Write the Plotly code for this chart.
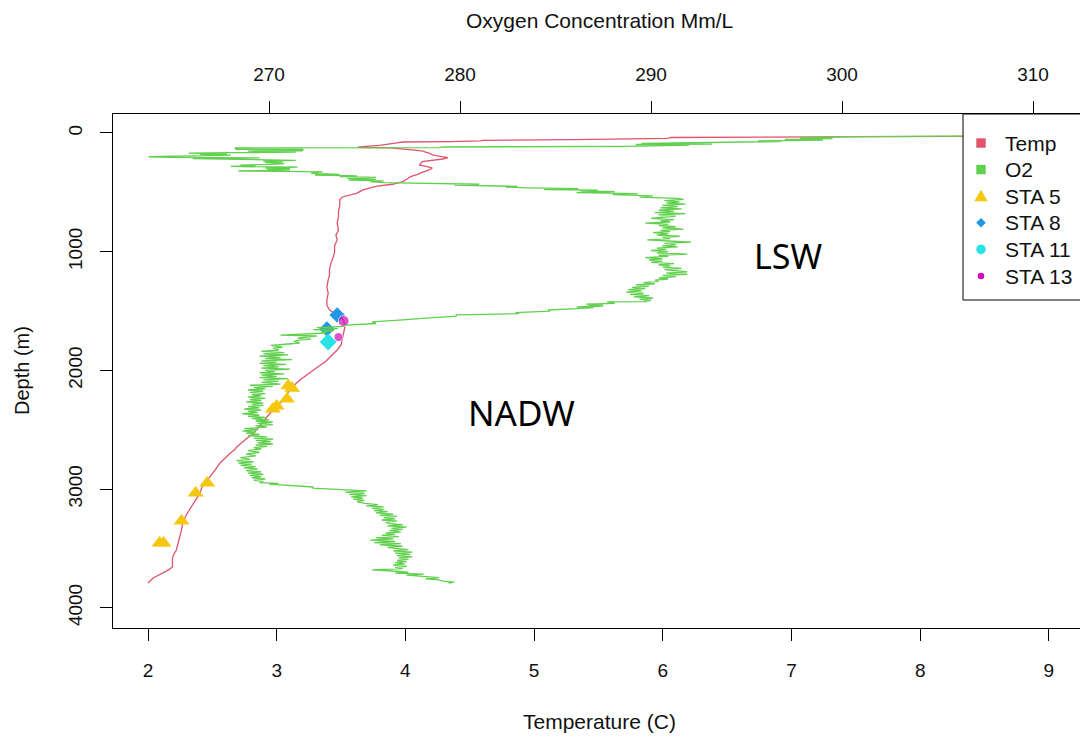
import plotly.graph_objects as go

# ---------------- data ----------------
temp_depth = [0, 8, 16, 24, 30, 34, 38, 45, 50, 56, 62, 67, 73, 76, 85, 93, 104, 115, 120, 126,
              135, 143, 152, 160, 172, 185, 197, 208, 219, 230, 242, 256, 270, 283, 295, 312, 322,
              331, 350, 368, 390, 410, 432, 447, 465, 480, 508, 539, 564, 610, 660, 708, 760, 820,
              860, 901, 950, 1000, 1045, 1100, 1154, 1200, 1238, 1300, 1350, 1407, 1450, 1491,
              1533, 1575, 1634, 1685, 1744, 1786, 1828, 1862, 1896, 1925, 1955, 1985, 2014, 2048,
              2081, 2120, 2165, 2220, 2275, 2320, 2359, 2400, 2443, 2490, 2528, 2560, 2587, 2615,
              2645, 2670, 2696, 2740, 2780, 2840, 2898, 2940, 2982, 3040, 3092, 3120, 3151, 3195,
              3235, 3290, 3345, 3390, 3429, 3470, 3513, 3550, 3581, 3620, 3656, 3680, 3699, 3712,
              3724, 3737, 3749, 3770, 3791]
temp_vals = [10.6, 10.3, 9.9, 9.4, 8.2, 6.60, 6.06, 6.04, 5.32, 5.30, 4.60, 4.58, 4.35, 3.98, 3.92,
             3.88, 3.80, 3.67, 3.63, 3.88, 3.95, 4.05, 4.14, 4.15, 4.19, 4.21, 4.27, 4.33, 4.29, 4.20,
             4.13, 4.12, 4.11, 4.17, 4.21, 4.18, 4.16, 4.13, 4.09, 4.04, 4.01, 3.98, 3.90, 3.78, 3.72,
             3.67, 3.62, 3.51, 3.49, 3.49, 3.48, 3.48, 3.47, 3.48, 3.46, 3.47, 3.45, 3.45, 3.44, 3.42,
             3.41, 3.41, 3.40, 3.39, 3.40, 3.39, 3.39, 3.41, 3.47, 3.52, 3.53, 3.52, 3.51, 3.50, 3.47,
             3.44, 3.41, 3.38, 3.34, 3.30, 3.26, 3.22, 3.18, 3.14, 3.10, 3.07, 3.03, 2.99, 2.95, 2.92,
             2.89, 2.85, 2.82, 2.78, 2.75, 2.72, 2.69, 2.67, 2.64, 2.60, 2.56, 2.52, 2.48, 2.45, 2.42,
             2.40, 2.37, 2.35, 2.33, 2.31, 2.29, 2.27, 2.26, 2.25, 2.24, 2.23, 2.22, 2.20, 2.19, 2.19,
             2.19, 2.16, 2.13, 2.10, 2.08, 2.06, 2.04, 2.02, 2.00]

o2_depth = [0, 10, 18, 24, 27, 28, 29, 30, 36, 42, 48, 54, 60, 67, 72, 78, 84, 88, 93, 97, 102, 107,
            112, 118, 124, 126, 137, 139, 150, 152, 155, 158, 162, 166, 170, 175, 180, 186, 192,
            200, 205, 210, 215, 222, 230, 236, 243, 250, 257, 264, 270, 275, 282, 288, 295, 300,
            306, 312, 320, 328, 334, 340, 348, 354, 362, 368, 374, 384, 390, 396, 404, 410, 418,
            424, 432, 438, 444, 450, 456, 462, 468, 476, 482, 488, 494, 502, 510, 520, 530, 540,
            550,
            560, 570, 580, 590, 600, 610, 620, 630, 640, 650, 660, 670, 680, 690, 700, 710, 720,
            730, 740, 750, 760, 770, 780, 790, 800, 810, 820, 830, 840, 850, 860, 870, 880, 890,
            900, 910, 920, 930, 940, 950, 960, 970, 980, 990, 1000, 1010, 1020, 1030, 1040, 1050,
            1060, 1070, 1080, 1090, 1100, 1110, 1120, 1130, 1140, 1150, 1160, 1170, 1180, 1190,
            1200, 1210, 1220, 1230, 1240, 1250, 1260, 1270, 1280, 1290, 1300, 1310, 1320, 1330,
            1340, 1350, 1360, 1370, 1380, 1390, 1400, 1410, 1418,
            1421, 1423, 1435, 1441, 1446, 1450, 1458, 1466, 1470, 1480, 1491, 1500, 1514, 1522,
            1533, 1543, 1553, 1562, 1575, 1592, 1605, 1618, 1630, 1640, 1648, 1656, 1665, 1675,
            1685, 1702, 1710, 1719, 1728, 1736, 1744, 1755, 1769, 1790, 1805, 1815, 1828,
            1840, 1850, 1860, 1870, 1880, 1890, 1900, 1910, 1920, 1930, 1940, 1950, 1960, 1970,
            1980, 1990, 2000, 2010, 2020, 2030, 2040, 2050, 2060, 2070, 2080, 2090, 2100,
            2115, 2125, 2135, 2145, 2155, 2165, 2175, 2185, 2195, 2205, 2215, 2225, 2235, 2245,
            2255, 2265, 2275, 2285, 2295, 2305, 2315, 2325, 2335, 2345, 2355, 2365, 2376, 2386,
            2396, 2406, 2416, 2426, 2436, 2446, 2456, 2466, 2477,
            2490, 2500, 2510, 2520, 2528, 2540, 2550, 2560, 2570, 2580, 2590, 2600, 2610, 2620,
            2630, 2640, 2650, 2660, 2675, 2690, 2705, 2720, 2735, 2750, 2760, 2770, 2780, 2790,
            2800, 2810, 2820, 2830, 2845, 2855, 2865, 2875, 2885, 2895, 2905, 2915, 2925, 2935,
            2945, 2952, 2958, 2966, 2975, 2982, 2991, 2998, 3008, 3015, 3025, 3035, 3045, 3055,
            3065, 3075, 3085, 3095, 3105, 3120, 3130, 3140, 3150, 3160, 3170, 3180, 3190, 3200,
            3210, 3220, 3230, 3240, 3250, 3260, 3270, 3280, 3290, 3300, 3310, 3320, 3330, 3340,
            3350, 3360, 3370, 3380, 3390, 3400, 3410, 3420, 3430, 3440, 3450, 3460, 3470, 3480,
            3490, 3500, 3510, 3520, 3530, 3540, 3550, 3560, 3570, 3580, 3590, 3600, 3610, 3620,
            3630, 3640, 3650, 3660, 3670, 3680, 3690, 3700, 3708, 3716, 3724, 3735, 3745, 3755,
            3765, 3775, 3783, 3791]
o2_vals = [322.0, 317.5, 312.0, 308.5, 306.0, 301.0, 305.0, 300.5, 299.2, 297.8, 299.5, 297.0, 299.0,
           295.6, 296.8, 294.1, 293.6, 289.5, 293.2, 289.2, 292.0, 290.0, 288.7, 279.1, 278.9,
           268.2, 268.3, 271.8, 271.7, 268.9, 270.4, 268.9, 271.4, 267.9, 265.8, 267.8, 266.4,
           268.0, 265.5, 263.7, 264.8, 269.5, 266.0, 269.7, 271.4, 269.7, 270.7, 269.8, 270.8,
           270.1, 268.5, 269.3, 268.0, 271.5, 269.8, 271.1, 269.9, 271.1, 268.4, 272.8, 272.2,
           272.2, 273.7, 272.4, 274.6, 273.7, 275.6, 274.1, 275.6, 274.2, 276.0, 275.3, 276.0,
           279.0, 281.0, 279.7, 281.0, 283.0, 282.4, 283.5, 286.2, 284.4, 287.2, 286.3, 288.1,
           286.1, 289.3, 288.0, 290.1, 289.4, 291.4,
           291.7, 290.7, 291.5, 290.8, 291.8, 290.6, 291.4, 290.5, 291.6, 290.4, 291.2, 290.2,
           291.8, 290.4, 291.3, 290.6, 290.0, 291.2, 290.5, 291.0, 289.7, 290.9, 290.4, 291.3,
           290.6, 291.7, 290.5, 291.0, 290.1, 290.9, 290.3, 291.5, 290.6, 291.0, 289.8, 290.9,
           292.1, 290.7, 291.3, 290.6, 291.4, 290.3, 290.8, 290.0, 290.9, 290.3, 291.9, 290.4,
           290.9, 289.7, 290.6, 289.9, 290.6, 290.0, 291.2, 290.4, 291.0, 290.6, 291.6, 290.7,
           291.3, 291.9, 290.8, 291.9, 290.6, 291.3, 290.4, 290.9, 290.2, 290.4, 289.6, 290.2,
           289.2, 289.9, 289.0, 289.7, 288.8, 289.5, 288.7, 289.6, 288.9, 289.9, 289.1, 290.1,
           289.4, 290.0, 289.6,
           289.8, 287.7, 288.1, 286.6, 287.5, 286.7, 287.5, 286.1, 287.0, 286.1, 284.6, 284.7,
           282.9, 283.1, 279.8, 279.8, 278.4, 278.0, 277.0, 275.4, 275.6, 274.0, 273.9, 272.5,
           273.6, 272.3, 273.4, 272.8, 273.0, 270.6, 272.5, 271.8, 271.5, 272.2, 271.6, 271.3,
           271.6, 270.1, 270.7, 270.2, 270.5,
           269.6, 270.8, 269.7, 271.0, 269.5, 270.6, 269.8, 271.2, 269.6, 270.4, 269.5, 270.9,
           269.7, 270.5, 269.6, 271.1, 269.8, 270.3, 269.5, 270.8, 269.6, 270.4, 269.5, 271.0,
           269.7, 270.5, 269.6,
           270.6, 269.0, 270.2, 269.2, 269.8, 268.9, 269.7, 269.0, 269.8, 269.1, 269.6, 268.9,
           269.8, 269.0, 269.6, 268.8, 269.7, 269.1, 269.7, 268.9, 269.5, 268.7, 269.6, 268.9,
           269.4, 268.6, 269.5, 268.9, 269.8, 269.1, 270.0, 269.3, 270.2, 269.4, 270.2, 269.3,
           269.9,
           268.7, 269.4, 268.6, 269.3, 268.8, 269.5, 268.9, 269.9, 269.2, 270.2, 269.3, 270.1,
           269.4, 270.2, 269.3, 269.9, 269.2, 269.6, 268.9, 269.5, 268.8, 269.3, 268.5, 269.0,
           268.3, 269.2, 268.4, 269.1, 268.5, 269.3, 268.7, 269.4, 268.8, 269.6, 268.9, 269.7,
           269.0, 269.6, 269.1, 269.8, 269.2, 269.7,
           269.5, 270.5, 270.0, 271.0, 271.5, 272.3, 272.3, 273.2, 273.9, 275.1, 274.0, 275.0,
           274.2, 275.1, 274.3, 274.9, 274.4, 275.0, 274.6, 275.0, 275.7, 275.1, 276.0, 275.4,
           276.0, 275.5, 276.2, 275.6, 276.5, 275.8, 276.7, 276.0, 276.6, 275.9, 276.7, 276.1,
           276.3, 277.0, 276.2, 277.2, 276.4, 277.0, 276.3, 276.9, 276.1, 276.6, 275.9, 276.8,
           275.6, 276.5, 275.3, 276.6, 275.5, 276.9, 275.8, 277.0, 276.2, 276.6, 277.3, 276.5,
           277.5, 276.6, 277.4, 276.7, 277.5, 276.8, 277.3, 276.7, 277.2, 276.6, 277.1, 276.5,
           277.2, 276.6, 277.0, 275.4, 276.4, 277.3, 276.6, 278.1, 277.2, 278.0, 278.9, 278.2,
           278.9, 279.1, 279.7, 279.4]

sta5_temp = [3.09, 3.12, 3.08, 3.00, 2.97, 2.46, 2.37, 2.26, 2.09, 2.12]
sta5_depth = [2130, 2150, 2241, 2300, 2325, 2949, 3033, 3269, 3454, 3454]
sta8_temp = [3.47, 3.39]
sta8_depth = [1533, 1651]
sta11_temp = [3.40]
sta11_depth = [1761]
sta13_temp = [3.52, 3.48]
sta13_depth = [1584, 1719]

temp_ticks = [2, 3, 4, 5, 6, 7, 8, 9]
o2_ticks = [270, 280, 290, 300, 310]
depth_ticks = [0, 1000, 2000, 3000, 4000]
legend_names = ["Temp", "O2", "STA 5", "STA 8", "STA 11", "STA 13"]

# ---------------- styling ----------------
RED = "#DF536B"
GREEN = "#61D04F"
GOLD = "#F5C710"
BLUE = "#2297E6"
CYAN = "#28E2E5"
MAGENTA = "#CD0BBC"
FONT = "Liberation Sans, Arial, sans-serif"
TXT = "#111111"

W, H = 1080, 738
ML, MR, MT, MB = 113, 0, 114, 110
PW, PH = W - ML - MR, H - MT - MB


def px(x):
    return (x - ML) / PW


def py(y):
    return (H - MB - y) / PH


fig = go.Figure()

fig.add_trace(go.Scatter(x=temp_vals, y=temp_depth, mode="lines",
                         line=dict(color=RED, width=1.3), xaxis="x", yaxis="y"))
fig.add_trace(go.Scatter(x=o2_vals, y=o2_depth, mode="lines",
                         line=dict(color=GREEN, width=1.3), xaxis="x2", yaxis="y"))
fig.add_trace(go.Scatter(x=sta5_temp, y=sta5_depth, mode="markers",
                         marker=dict(symbol="triangle-up", size=14, color=GOLD)))
fig.add_trace(go.Scatter(x=sta8_temp, y=sta8_depth, mode="markers",
                         marker=dict(symbol="diamond", size=12, color=BLUE)))
fig.add_trace(go.Scatter(x=sta11_temp, y=sta11_depth, mode="markers",
                         marker=dict(symbol="diamond", size=13, color=CYAN)))
fig.add_trace(go.Scatter(x=sta13_temp, y=sta13_depth, mode="markers",
                         marker=dict(symbol="circle", size=[11, 9], color=MAGENTA)))

axis_common = dict(showline=True, linecolor="black", linewidth=1, ticks="outside",
                   ticklen=12, tickwidth=1, tickcolor="black", showgrid=False,
                   zeroline=False, tickfont=dict(family=FONT, size=19, color=TXT))

fig.update_layout(
    width=W, height=H,
    margin=dict(l=ML, r=MR, t=MT, b=MB, autoexpand=False),
    paper_bgcolor="white", plot_bgcolor="white",
    showlegend=False,
    xaxis=dict(range=[1.728, 9.242], tickvals=temp_ticks, ticklabelstandoff=13,
               **axis_common),
    xaxis2=dict(range=[261.83, 312.46], tickvals=o2_ticks, overlaying="x", side="top",
                anchor="y", ticklabelstandoff=12, **axis_common),
    yaxis=dict(range=[4170, -160], tickvals=depth_ticks, tickangle=-90,
               ticklabelstandoff=10, **axis_common),
)

# ---- legend (R style box, drawn above the data) ----
shapes = [dict(type="rect", xref="paper", yref="paper", x0=px(963), x1=px(1100),
               y0=py(300), y1=py(114), line=dict(color="black", width=1),
               fillcolor="white", layer="above")]
rows = [143, 169.6, 196.2, 222.8, 249.4, 276]
cx = 981
s = 4.7
# Temp, O2 squares
for row, col in zip(rows[:2], [RED, GREEN]):
    shapes.append(dict(type="rect", xref="paper", yref="paper", x0=px(cx - s), x1=px(cx + s),
                       y0=py(row + s), y1=py(row - s), fillcolor=col, line=dict(width=0),
                       layer="above"))
# STA 5 triangle
r = rows[2]
shapes.append(dict(type="path", xref="paper", yref="paper",
                   path=f"M {px(cx)} {py(r - 6.5)} L {px(cx + 6.7)} {py(r + 5)} "
                        f"L {px(cx - 6.7)} {py(r + 5)} Z",
                   fillcolor=GOLD, line=dict(width=0), layer="above"))
# STA 8 diamond
r = rows[3]
shapes.append(dict(type="path", xref="paper", yref="paper",
                   path=f"M {px(cx)} {py(r - 4.8)} L {px(cx + 4.8)} {py(r)} "
                        f"L {px(cx)} {py(r + 4.8)} L {px(cx - 4.8)} {py(r)} Z",
                   fillcolor=BLUE, line=dict(width=0), layer="above"))
# STA 11 / STA 13 circles
for row, col, rad in [(rows[4], CYAN, 4.8), (rows[5], MAGENTA, 3.3)]:
    shapes.append(dict(type="circle", xref="paper", yref="paper", x0=px(cx - rad),
                       x1=px(cx + rad), y0=py(row + rad), y1=py(row - rad),
                       fillcolor=col, line=dict(width=0), layer="above"))
fig.update_layout(shapes=shapes)

for name, row in zip(legend_names, rows):
    fig.add_annotation(text=name, xref="paper", yref="paper", x=px(1003), y=py(row),
                       xanchor="left", yanchor="middle", showarrow=False,
                       font=dict(family=FONT, size=21, color=TXT))

# ---- axis titles and labels ----
fig.add_annotation(text="Temperature (C)", xref="paper", yref="paper",
                   x=px(599), y=py(721), showarrow=False,
                   font=dict(family=FONT, size=21, color=TXT),
                   xanchor="center", yanchor="middle")
fig.add_annotation(text="Oxygen Concentration Mm/L", xref="paper", yref="paper",
                   x=px(599), y=py(21), showarrow=False,
                   font=dict(family=FONT, size=21, color=TXT),
                   xanchor="center", yanchor="middle")
fig.add_annotation(text="Depth (m)", xref="paper", yref="paper",
                   x=px(22), y=0.5, showarrow=False, textangle=-90,
                   font=dict(family=FONT, size=20, color=TXT),
                   xanchor="center", yanchor="middle")
fig.add_annotation(text="LSW", x=6.97, y=1036, xref="x", yref="y", showarrow=False,
                   font=dict(family="Noto Sans, Open Sans, sans-serif", size=34, color="black"))
fig.add_annotation(text="NADW", x=4.90, y=2351, xref="x", yref="y", showarrow=False,
                   font=dict(family="Noto Sans, Open Sans, sans-serif", size=35, color="black"))

fig.write_html("out.html")
